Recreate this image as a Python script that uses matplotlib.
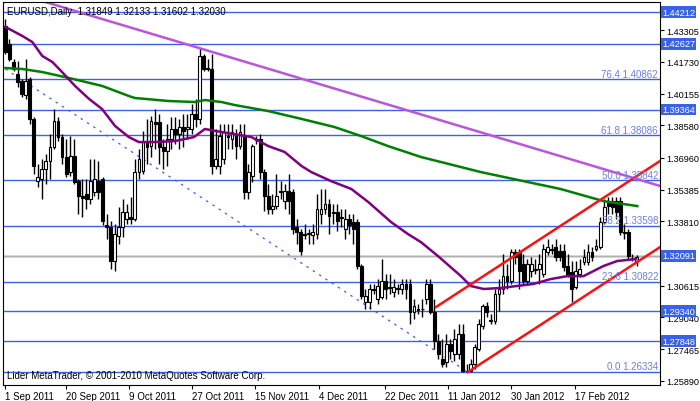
import matplotlib
matplotlib.use('Agg')
import matplotlib.pyplot as plt
import matplotlib.transforms as mtransforms
import numpy as np

# daily EURUSD candles (bar index 0 = 1 Sep 2011)
opens = [1.4352, 1.4262, 1.4173, 1.4113, 1.4078, 1.4009, 1.4088, 1.3890, 1.3581, 1.3591,
         1.3641, 1.3681, 1.3750, 1.3880, 1.3800, 1.3701, 1.3626, 1.3706, 1.3581, 1.3507,
         1.3517, 1.3492, 1.3527, 1.3581, 1.3591, 1.3363, 1.3353, 1.3184, 1.3308, 1.3353,
         1.3393, 1.3403, 1.3393, 1.3626, 1.3631, 1.3775, 1.3755, 1.3875, 1.3875, 1.3750,
         1.3731, 1.3790, 1.3840, 1.3815, 1.3850, 1.3840, 1.3840, 1.3914, 1.3890, 1.4203,
         1.4143, 1.4138, 1.3656, 1.3656, 1.3691, 1.3805, 1.3790, 1.3805, 1.3755, 1.3805,
         1.3527, 1.3606, 1.3790, 1.3790, 1.3626, 1.3507, 1.3442, 1.3457, 1.3532, 1.3482,
         1.3532, 1.3527, 1.3353, 1.3328, 1.3318, 1.3318, 1.3313, 1.3318, 1.3417, 1.3442,
         1.3467, 1.3427, 1.3427, 1.3403, 1.3343, 1.3393, 1.3378, 1.3378, 1.3159, 1.2980,
         1.2980, 1.3045, 1.2995, 1.3005, 1.3084, 1.3055, 1.3030, 1.3045, 1.3045, 1.3070,
         1.3070, 1.2930, 1.2945, 1.2945, 1.2995, 1.3070, 1.2930, 1.2786, 1.2697, 1.2682,
         1.2771, 1.2722, 1.2722, 1.2821, 1.2637, 1.2637, 1.2672, 1.2747, 1.2861, 1.2960,
         1.2886, 1.2886, 1.3020, 1.3045, 1.3109, 1.3084, 1.3229, 1.3229, 1.3169, 1.3084,
         1.3134, 1.3144, 1.3144, 1.3119, 1.3229, 1.3244, 1.3253, 1.3234, 1.3234, 1.3159,
         1.3129, 1.3055, 1.3119, 1.3179, 1.3179, 1.3229, 1.3244, 1.3253, 1.3378, 1.3477,
         1.3482, 1.3482, 1.3482, 1.3328, 1.3328, 1.3194, 1.31849]
highs = [1.4387, 1.4287, 1.4188, 1.4178, 1.4088, 1.4188, 1.4098, 1.3900, 1.3666, 1.3691,
         1.3716, 1.3815, 1.3939, 1.3900, 1.3815, 1.3790, 1.3805, 1.3790, 1.3591, 1.3591,
         1.3591, 1.3691, 1.3691, 1.3681, 1.3601, 1.3417, 1.3383, 1.3368, 1.3452, 1.3492,
         1.3467, 1.3502, 1.3691, 1.3741, 1.3830, 1.3890, 1.3905, 1.3939, 1.3914, 1.3790,
         1.3865, 1.3900, 1.3900, 1.3890, 1.3914, 1.3914, 1.3964, 1.3989, 1.4237, 1.4213,
         1.4188, 1.4213, 1.3840, 1.3865, 1.3865, 1.3865, 1.3865, 1.3840, 1.3865, 1.3865,
         1.3666, 1.3765, 1.3805, 1.3815, 1.3641, 1.3567, 1.3517, 1.3616, 1.3581, 1.3567,
         1.3616, 1.3542, 1.3393, 1.3343, 1.3368, 1.3343, 1.3368, 1.3517, 1.3542, 1.3542,
         1.3492, 1.3467, 1.3467, 1.3442, 1.3442, 1.3417, 1.3417, 1.3393, 1.3169, 1.3045,
         1.3070, 1.3070, 1.3094, 1.3194, 1.3119, 1.3119, 1.3094, 1.3070, 1.3094, 1.3094,
         1.3094, 1.2995, 1.2970, 1.2995, 1.3094, 1.3094, 1.2995, 1.2821, 1.2796, 1.2821,
         1.2796, 1.2846, 1.2871, 1.2871, 1.2672, 1.2697, 1.2771, 1.2896, 1.2970, 1.2980,
         1.2920, 1.3045, 1.3094, 1.3219, 1.3169, 1.3244, 1.3244, 1.3244, 1.3219, 1.3194,
         1.3204, 1.3194, 1.3219, 1.3268, 1.3293, 1.3268, 1.3293, 1.3268, 1.3268, 1.3219,
         1.3184, 1.3184, 1.3194, 1.3244, 1.3268, 1.3253, 1.3293, 1.3403, 1.3492, 1.3502,
         1.3502, 1.3502, 1.3502, 1.3368, 1.3343, 1.3219, 1.32133]
lows = [1.4213, 1.4178, 1.4128, 1.4049, 1.3999, 1.3989, 1.3865, 1.3616, 1.3552, 1.3492,
        1.3567, 1.3591, 1.3741, 1.3780, 1.3666, 1.3601, 1.3606, 1.3567, 1.3417, 1.3403,
        1.3442, 1.3467, 1.3507, 1.3492, 1.3363, 1.3293, 1.3144, 1.3134, 1.3268, 1.3303,
        1.3368, 1.3368, 1.3383, 1.3591, 1.3616, 1.3666, 1.3701, 1.3741, 1.3666, 1.3641,
        1.3656, 1.3741, 1.3765, 1.3741, 1.3750, 1.3790, 1.3815, 1.3850, 1.3865, 1.4128,
        1.4128, 1.3616, 1.3641, 1.3616, 1.3666, 1.3741, 1.3741, 1.3691, 1.3741, 1.3492,
        1.3492, 1.3576, 1.3765, 1.3591, 1.3432, 1.3417, 1.3417, 1.3442, 1.3492, 1.3442,
        1.3417, 1.3318, 1.3268, 1.3214, 1.3293, 1.3268, 1.3268, 1.3293, 1.3368, 1.3417,
        1.3318, 1.3368, 1.3333, 1.3353, 1.3293, 1.3318, 1.3268, 1.3144, 1.2995, 1.2945,
        1.2945, 1.3020, 1.2970, 1.2995, 1.2995, 1.3020, 1.3005, 1.3020, 1.3020, 1.2995,
        1.2871, 1.2896, 1.2920, 1.2906, 1.2970, 1.2920, 1.2747, 1.2697, 1.2657, 1.2657,
        1.2697, 1.2687, 1.2697, 1.2633, 1.2634, 1.2634, 1.2647, 1.2737, 1.2846, 1.2906,
        1.2871, 1.2871, 1.2935, 1.3020, 1.3045, 1.3070, 1.3169, 1.3045, 1.3070, 1.3070,
        1.3104, 1.3119, 1.3070, 1.3104, 1.3214, 1.3219, 1.3184, 1.3184, 1.3134, 1.3104,
        1.2980, 1.3045, 1.3104, 1.3164, 1.3164, 1.3184, 1.3234, 1.3244, 1.3368, 1.3417,
        1.3417, 1.3393, 1.3313, 1.3293, 1.3194, 1.3184, 1.31602]
closes = [1.4223, 1.4188, 1.4138, 1.4073, 1.4014, 1.4078, 1.3890, 1.3656, 1.3601, 1.3641,
          1.3681, 1.3750, 1.3880, 1.3800, 1.3701, 1.3616, 1.3706, 1.3576, 1.3507, 1.3497,
          1.3492, 1.3581, 1.3591, 1.3527, 1.3383, 1.3353, 1.3184, 1.3318, 1.3353, 1.3427,
          1.3427, 1.3393, 1.3626, 1.3691, 1.3775, 1.3750, 1.3880, 1.3865, 1.3750, 1.3731,
          1.3790, 1.3840, 1.3815, 1.3850, 1.3830, 1.3850, 1.3914, 1.3890, 1.4203, 1.4138,
          1.4140, 1.3656, 1.3691, 1.3805, 1.3825, 1.3802, 1.3825, 1.3755, 1.3825, 1.3527,
          1.3626, 1.3755, 1.3787, 1.3626, 1.3507, 1.3442, 1.3457, 1.3507, 1.3529, 1.3532,
          1.3482, 1.3343, 1.3328, 1.3234, 1.3315, 1.3321, 1.3328, 1.3442, 1.3442, 1.3467,
          1.3408, 1.3424, 1.3383, 1.3400, 1.3393, 1.3363, 1.3343, 1.3159, 1.3010, 1.3010,
          1.3045, 1.3042, 1.3060, 1.3084, 1.3045, 1.3052, 1.3055, 1.3048, 1.3070, 1.3045,
          1.2930, 1.2960, 1.2942, 1.2948, 1.3070, 1.2930, 1.2786, 1.2722, 1.2672, 1.2771,
          1.2737, 1.2796, 1.2821, 1.2637, 1.2640, 1.2672, 1.2756, 1.2871, 1.2960, 1.2930,
          1.2889, 1.3020, 1.3045, 1.3109, 1.3084, 1.3229, 1.3204, 1.3134, 1.3084, 1.3169,
          1.3169, 1.3141, 1.3169, 1.3244, 1.3253, 1.3241, 1.3204, 1.3204, 1.3154, 1.3119,
          1.3045, 1.3134, 1.3144, 1.3204, 1.3229, 1.3204, 1.3258, 1.3378, 1.3452, 1.3457,
          1.3452, 1.3427, 1.3328, 1.3325, 1.3209, 1.3197, 1.32030]

# moving averages (bar index, price)
ma_fast_x = [0, 4.2, 6.65, 9.1, 11.6, 14.0, 17.2, 20.7, 23.9, 27.1, 30.5, 33.0, 36.9, 41.9,
             46.6, 49.3, 53.4, 60.8, 65.0, 69.0, 73.2, 75.6, 80.5, 85.5, 89.7, 95.3, 99.5,
             102.7, 106.9, 112.6, 115.0, 118.2, 122.4, 130.5, 134.7, 138.9, 142.9, 147.8,
             151.2, 155.9]
ma_fast_y = [1.4347, 1.4302, 1.4272, 1.4203, 1.4173, 1.4123, 1.4054, 1.3989, 1.3939, 1.3855,
             1.3800, 1.3775, 1.3775, 1.3780, 1.3800, 1.3840, 1.3825, 1.3800, 1.3755, 1.3726,
             1.3656, 1.3626, 1.3581, 1.3542, 1.3477, 1.3378, 1.3318, 1.3278, 1.3209, 1.3109,
             1.3060, 1.3045, 1.3050, 1.3070, 1.3094, 1.3109, 1.3109, 1.3159, 1.3184, 1.3194]
ma_slow_x = [0, 4.2, 9.1, 15.8, 23.9, 30.5, 32.0, 40.4, 46.8, 49.3, 53.4, 56.7, 65.0, 73.2,
             81.3, 87.9, 94.6, 102.7, 117.5, 137.2, 147.8, 156.2]
ma_slow_y = [1.4143, 1.4138, 1.4123, 1.4093, 1.4054, 1.4004, 1.3994, 1.3979, 1.3974, 1.3984,
             1.3974, 1.3959, 1.3929, 1.3890, 1.3850, 1.3805, 1.3755, 1.3701, 1.3626, 1.3542,
             1.3482, 1.3457]

# horizontal levels
levels = [1.44212, 1.42627, 1.40862, 1.39364, 1.38086, 1.35842, 1.33598, 1.32091,
          1.30822, 1.29340, 1.27848, 1.26334]
boxed = [1.44212, 1.42627, 1.39364, 1.32091, 1.29340, 1.27848]
fib_levels = [1.40862, 1.38086, 1.35842, 1.33598, 1.30822, 1.26334]
fib_names = ['76.4', '61.8', '50.0', '38.2', '23.6', '0.0']
price_ticks = [1.43305, 1.41730, 1.40155, 1.38580, 1.36960, 1.35385, 1.33810,
               1.30615, 1.29040, 1.27465, 1.25890]

# trend lines (bar index, price)
resist_x, resist_y = [9.85, 161.8], [1.4471, 1.3557]
dotted_x, dotted_y = [0, 114.3], [1.4138, 1.2632]
chan_up_x, chan_up_y = [106.4, 161.8], [1.2955, 1.3681]
chan_lo_x, chan_lo_y = [114.3, 161.8], [1.2632, 1.3253]

date_pos = [0, 15, 30.5, 46, 61.6, 77.6, 93.8, 109.4, 125, 140.9]
date_labels = ['1 Sep 2011', '20 Sep 2011', '9 Oct 2011', '27 Oct 2011', '15 Nov 2011',
               '4 Dec 2011', '22 Dec 2011', '11 Jan 2012', '30 Jan 2012', '17 Feb 2012']

plt.rcParams['font.family'] = ['Liberation Sans', 'DejaVu Sans']
fs = 7
yfs = 6.6
fig = plt.figure(figsize=(7, 4.02), dpi=100)
ax = fig.add_axes([3 / 700, 16 / 402, 657 / 700, 383 / 402])

blue = '#3a62e6'
for lv in levels:
    ax.axhline(lv, color=blue, lw=1, zorder=1)
ax.axhline(closes[-1] + 0.0006, color='#b0b0b0', lw=1, zorder=1)

ax.plot(dotted_x, dotted_y, color=blue, lw=0.9, ls=(0, (2, 4)), zorder=2)
ax.plot(resist_x, resist_y, color='#bb55dd', lw=1.8, zorder=2)

idx = np.arange(len(closes))
o = np.array(opens); c = np.array(closes)
ax.vlines(idx, lows, highs, color='black', lw=1, zorder=3)
bottoms = np.minimum(o, c)
heights = np.maximum(np.abs(c - o), 0.0003)
face = ['white' if cc >= oo else 'black' for oo, cc in zip(o, c)]
ax.bar(idx, heights, bottom=bottoms, width=0.7, color=face, edgecolor='black', lw=0.8, zorder=4)

ax.plot(ma_slow_x, ma_slow_y, color='#008000', lw=1.8, zorder=5)
ax.plot(ma_fast_x, ma_fast_y, color='#800080', lw=1.8, zorder=5)
ax.plot(chan_up_x, chan_up_y, color='#ff1010', lw=1.8, zorder=6)
ax.plot(chan_lo_x, chan_lo_y, color='#ff1010', lw=1.8, zorder=6)

ax.set_xlim(-0.6, 161.8)
ax.set_ylim(1.2568, 1.4471)

ax.yaxis.tick_right()
ax.set_yticks(price_ticks)
ax.set_yticklabels(['%.5f' % p for p in price_ticks])
ax.tick_params(axis='y', direction='out', length=3, labelsize=yfs, pad=1.5)
ax.set_xticks(date_pos)
ax.set_xticklabels(date_labels, ha='left')
ax.tick_params(axis='x', direction='out', length=3, labelsize=fs, pad=1)
for s in ax.spines.values():
    s.set_color('black')

trans = mtransforms.blended_transform_factory(ax.transAxes, ax.transData)
for lv in boxed:
    ax.text(1.003, lv, '%.5f' % lv, transform=trans, fontsize=yfs, color='white',
            va='center', ha='left', zorder=10, clip_on=False,
            bbox=dict(facecolor='#3a62e6', edgecolor='none', pad=1.0))
for lv, nm in zip(fib_levels, fib_names):
    ax.text(0.997, lv + 0.0004, '%s %.5f' % (nm, lv), transform=trans, fontsize=fs,
            color='#6a7fe8', ha='right', va='bottom', zorder=7)

ax.text(0.006, 0.99, 'EURUSD,Daily  1.31849 1.32133 1.31602 1.32030', transform=ax.transAxes,
        fontsize=fs, va='top', ha='left', zorder=10)
ax.text(0.006, 0.012, 'Lider MetaTrader, © 2001-2010 MetaQuotes Software Corp.',
        transform=ax.transAxes, fontsize=fs, va='bottom', ha='left', zorder=10)

fig.savefig('out.png', dpi=100)
